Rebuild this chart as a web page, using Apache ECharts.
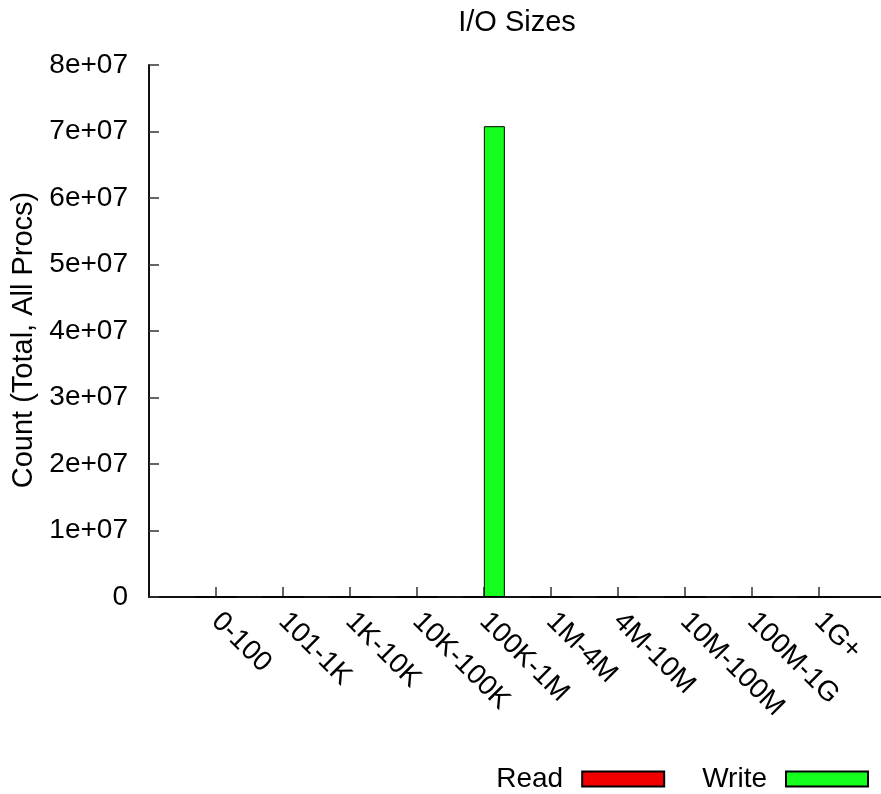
<!DOCTYPE html>
<html>
<head>
<meta charset="utf-8">
<script src="https://cdn.jsdelivr.net/npm/echarts@6/dist/echarts.min.js"></script>
<style>
  html, body { margin: 0; padding: 0; background: #fff; }
  #chart { width: 881px; height: 794px; }
</style>
</head>
<body>
<div id="chart"></div>
<script>
// Request-size buckets and per-bucket I/O counts (summed over all processes)
const categories = ['0-100', '101-1K', '1K-10K', '10K-100K', '100K-1M', '1M-4M', '4M-10M', '10M-100M', '100M-1G', '1G+'];
const readCounts = [0, 0, 0, 0, 0, 0, 0, 0, 0, 0];
const writeCounts = [0, 0, 0, 0, 70800000, 0, 0, 0, 0, 0];
const yTickValues = [0, 1e7, 2e7, 3e7, 4e7, 5e7, 6e7, 7e7, 8e7];

const FONT = 'Liberation Sans, Arial, Helvetica, sans-serif';
const categoryIdx = categories.map((_, i) => i);

function yTickLabel(v) {
  if (v === 0) return '0';
  return (v / 1e7) + 'e+07';
}

const chart = echarts.init(document.getElementById('chart'), null, { renderer: 'canvas' });

chart.setOption({
  animation: false,
  backgroundColor: '#ffffff',
  textStyle: { fontFamily: FONT },
  title: {
    text: 'I/O Sizes',
    left: 517,
    top: 8,
    padding: 0,
    textAlign: 'center',
    textStyle: { fontFamily: FONT, fontSize: 29, fontWeight: 'normal', color: '#000' }
  },
  legend: {
    data: ['Read', 'Write'],
    right: 12,
    top: 765,
    padding: 0,
    align: 'right',
    icon: 'rect',
    itemWidth: 82,
    itemHeight: 15,
    itemGap: 37,
    selectedMode: false,
    textStyle: { fontFamily: FONT, fontSize: 28, color: '#000', padding: [0, 14, 0, 0] }
  },
  grid: {
    left: 149,
    right: 0,
    top: 65,
    bottom: 197,
    containLabel: false,
    outerBoundsMode: 'none'
  },
  xAxis: {
    type: 'value',
    min: -1,
    max: 9.93,
    interval: 1,
    splitLine: { show: false },
    axisLine: { show: true, onZero: false, lineStyle: { color: '#111', width: 2 } },
    axisTick: {
      show: true,
      inside: true,
      length: 10,
      customValues: categoryIdx,
      lineStyle: { color: '#333', width: 1.5 }
    },
    axisLabel: {
      show: true,
      rotate: -45,
      margin: 20,
      customValues: categoryIdx,
      formatter: (v) => categories[Math.round(v)] || '',
      fontFamily: FONT,
      fontSize: 28,
      color: '#000'
    }
  },
  yAxis: {
    type: 'value',
    min: 0,
    max: 8e7,
    interval: 1e7,
    name: 'Count (Total, All Procs)',
    nameLocation: 'middle',
    nameGap: 110,
    nameTextStyle: { fontFamily: FONT, fontSize: 29, color: '#000', padding: [0, 18, 0, 0] },
    splitLine: { show: false },
    axisLine: { show: true, onZero: false, lineStyle: { color: '#111', width: 2 } },
    axisTick: {
      show: true,
      inside: true,
      length: 10,
      customValues: yTickValues,
      lineStyle: { color: '#333', width: 1.5 }
    },
    axisLabel: {
      margin: 21,
      customValues: yTickValues,
      formatter: yTickLabel,
      fontFamily: FONT,
      fontSize: 28,
      color: '#000'
    }
  },
  series: [
    {
      name: 'Read',
      type: 'bar',
      barWidth: 21,
      barGap: '0%',
      data: readCounts.map((v, i) => [i, v]),
      itemStyle: { color: '#f20000', borderColor: '#000', borderWidth: 1 }
    },
    {
      name: 'Write',
      type: 'bar',
      barWidth: 21,
      barGap: '0%',
      data: writeCounts.map((v, i) => [i, v]),
      itemStyle: { color: '#14ff1e', borderColor: '#000', borderWidth: 1 }
    }
  ]
});
</script>
</body>
</html>
